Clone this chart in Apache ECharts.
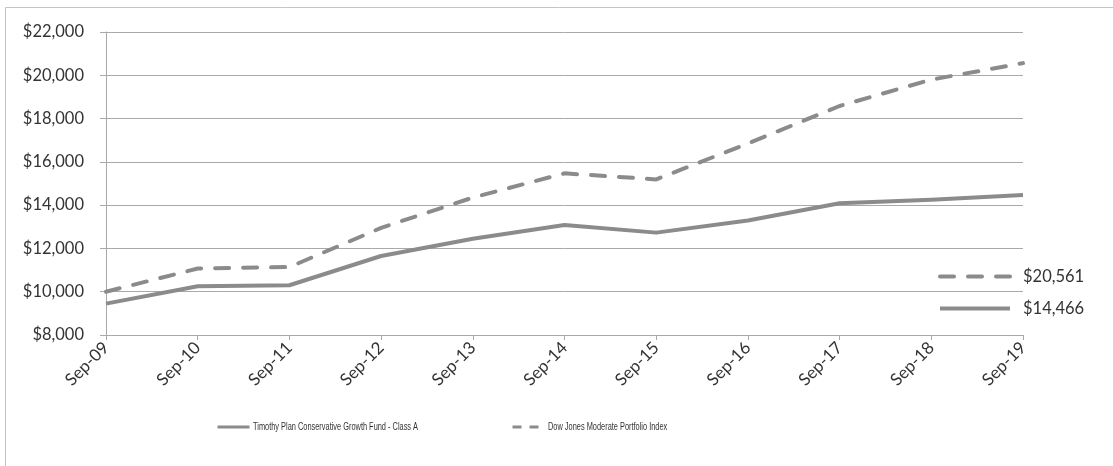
<!DOCTYPE html>
<html>
<head>
<meta charset="utf-8">
<script src="https://cdn.jsdelivr.net/npm/echarts@6/dist/echarts.min.js"></script>
<style>
  html, body { margin: 0; padding: 0; background: #ffffff; }
  #chart { width: 1113px; height: 466px; }
</style>
</head>
<body>
<div id="chart"></div>
<script>
// Growth of a hypothetical $10,000 investment, Sep-09 to Sep-19
const categories = ['Sep-09', 'Sep-10', 'Sep-11', 'Sep-12', 'Sep-13', 'Sep-14', 'Sep-15', 'Sep-16', 'Sep-17', 'Sep-18', 'Sep-19'];
const fundName = 'Timothy Plan Conservative Growth Fund - Class A';
const indexName = 'Dow Jones Moderate Portfolio Index';
const fundValues = [9450, 10250, 10300, 11650, 12450, 13080, 12730, 13290, 14090, 14250, 14466];
const indexValues = [10000, 11070, 11140, 12950, 14350, 15470, 15190, 16850, 18580, 19800, 20561];
const yTicks = { min: 8000, max: 22000, interval: 2000 };

const lineColor = '#8b8b8d';
const gridColor = '#a9a9a9';
const textColor = '#333333';
const labelFont = 'Lato, "Open Sans", sans-serif';
const legendFont = '"Liberation Sans", Arial, sans-serif';

const money = v => '$' + Number(v).toLocaleString('en-US');
const lastValue = { [fundName]: fundValues[fundValues.length - 1], [indexName]: indexValues[indexValues.length - 1] };

// narrow caption text next to the bottom legend keys
const caption = (text, x) => ({
  type: 'text',
  x: x, y: 427,
  scaleX: 0.74,
  silent: true,
  style: { text: text, fill: textColor, font: '10px ' + legendFont, verticalAlign: 'middle', align: 'left' }
});

// legend keys show only the line stroke, no point marker
const hiddenMarker = { color: 'rgba(0,0,0,0)', borderColor: 'rgba(0,0,0,0)', borderWidth: 0, opacity: 0 };

const chart = echarts.init(document.getElementById('chart'), null, { renderer: 'canvas' });
chart.setOption({
  animation: false,
  backgroundColor: '#ffffff',
  graphic: [{
    type: 'rect',
    shape: { x: 5.5, y: 7.5, width: 1120, height: 470 },
    style: { fill: 'none', stroke: '#c4c4c4', lineWidth: 1 },
    silent: true
  }, caption(fundName, 253), caption(indexName, 548)],
  grid: { left: 106, top: 32, right: 90, bottom: 131, containLabel: false },
  xAxis: {
    type: 'category',
    data: categories,
    boundaryGap: false,
    axisLine: { lineStyle: { color: gridColor, width: 1 } },
    axisTick: { show: true, length: 5, lineStyle: { color: gridColor } },
    axisLabel: { rotate: 45, margin: 10, color: textColor, fontFamily: labelFont, fontSize: 17 },
    splitLine: { show: false }
  },
  yAxis: {
    type: 'value',
    min: yTicks.min,
    max: yTicks.max,
    interval: yTicks.interval,
    axisLine: { show: true, lineStyle: { color: gridColor, width: 1 } },
    axisTick: { show: true, length: 6, lineStyle: { color: gridColor } },
    axisLabel: { margin: 22, color: textColor, fontFamily: labelFont, fontSize: 16.5, formatter: money },
    splitLine: { show: true, lineStyle: { color: gridColor, width: 1 } }
  },
  legend: [{
    data: [fundName],
    left: 216,
    top: 420,
    padding: 0,
    itemWidth: 32,
    itemHeight: 14,
    formatter: () => '',
    itemStyle: hiddenMarker,
    lineStyle: { width: 3 },
    textStyle: { color: textColor }
  }, {
    data: [indexName],
    left: 511,
    top: 420,
    padding: 0,
    itemWidth: 32,
    itemHeight: 14,
    formatter: () => '',
    itemStyle: hiddenMarker,
    lineStyle: { width: 3, type: [9, 8], cap: 'butt' },
    textStyle: { color: textColor }
  }, {
    data: [indexName, fundName],
    orient: 'vertical',
    left: 938,
    top: 268,
    padding: 0,
    itemWidth: 70,
    itemHeight: 14,
    itemGap: 15,
    itemStyle: hiddenMarker,
    lineStyle: { width: 4 },
    formatter: name => money(lastValue[name]),
    textStyle: { color: textColor, fontFamily: labelFont, fontSize: 16.5, padding: [0, 0, 0, 8] }
  }],
  series: [{
    name: fundName,
    type: 'line',
    data: fundValues,
    showSymbol: false,
    symbol: 'none',
    lineStyle: { color: lineColor, width: 4, cap: 'butt', join: 'round' },
    itemStyle: { color: lineColor }
  }, {
    name: indexName,
    type: 'line',
    data: indexValues,
    showSymbol: false,
    symbol: 'none',
    lineStyle: { color: lineColor, width: 4, type: [14, 14], cap: 'round', join: 'round' },
    itemStyle: { color: lineColor }
  }]
});
</script>
</body>
</html>
